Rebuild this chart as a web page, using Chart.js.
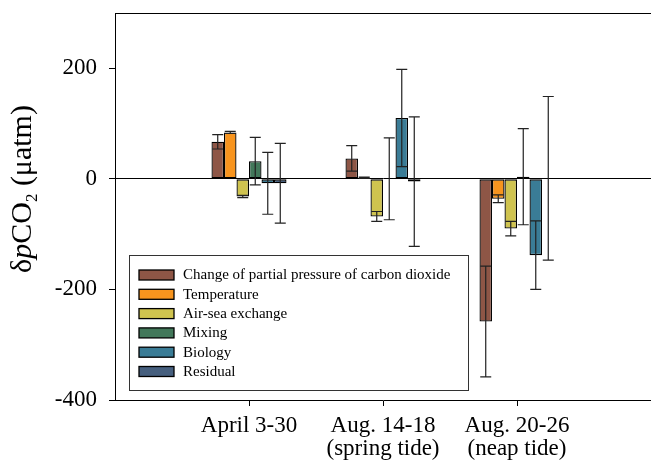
<!DOCTYPE html>
<html><head><meta charset="utf-8">
<script src="https://cdn.jsdelivr.net/npm/chart.js@4.4.0/dist/chart.umd.min.js"></script>
<style>html,body{margin:0;padding:0;background:#fff;overflow:hidden}</style>
</head><body>
<canvas id="c" width="651" height="465"></canvas>
<script>
// ---- data ----
const categories = ['', 'April 3-30', ['Aug. 14-18', '(spring tide)'], ['Aug. 20-26', '(neap tide)'], ''];
const seriesNames = ['Change of partial pressure of carbon dioxide', 'Temperature', 'Air-sea exchange', 'Mixing', 'Biology', 'Residual'];
const seriesColors = ['#8E5646', '#F7941E', '#CFC34F', '#42785A', '#3A7C96', '#465F7E'];
const pco2Change    = [null, 67, 37, -258, null];
const pco2ChangeErr = [null, 13, 23, 100, null];
const temperature    = [null, 84, 2, -36, null];
const temperatureErr = [null, 2, 1, 7, null];
const airSea    = [null, -32, -68, -90, null];
const airSeaErr = [null, 2, 9, 13, null];
const mixing    = [null, 32, 0, 4, null];
const mixingErr = [null, 43, 74, 87, null];
const biology    = [null, -8, 110, -138, null];
const biologyErr = [null, 56, 88, 62, null];
const residual    = [null, -8, -5, 1, null];
const residualErr = [null, 72, 117, 148, null];
const yTickValues = [-400, -200, 0, 200];
const yMin = -400, yMax = 300;

const seriesValues = [pco2Change, temperature, airSea, mixing, biology, residual];
const seriesErrors = [pco2ChangeErr, temperatureErr, airSeaErr, mixingErr, biologyErr, residualErr];

const FONT = '"Liberation Serif", "Times New Roman", serif';

const datasets = seriesNames.map((name, i) => ({
  label: name,
  data: seriesValues[i],
  errors: seriesErrors[i],
  backgroundColor: seriesColors[i],
  borderColor: '#000',
  borderWidth: 1.3,
  borderSkipped: false,
  barPercentage: 1,
  categoryPercentage: 0.56
}));

const errorBarPlugin = {
  id: 'errorBars',
  afterDatasetsDraw(chart) {
    const ctx = chart.ctx, ys = chart.scales.y;
    chart.data.datasets.forEach((ds, di) => {
      const meta = chart.getDatasetMeta(di);
      meta.data.forEach((bar, i) => {
        const v = ds.data[i], e = ds.errors[i];
        if (v == null || e == null) return;
        const x = bar.x, yt = ys.getPixelForValue(v + e), yb = ys.getPixelForValue(v - e);
        ctx.save();
        ctx.strokeStyle = '#222';
        ctx.lineWidth = 1.2;
        ctx.beginPath();
        ctx.moveTo(x, yt); ctx.lineTo(x, yb);
        ctx.moveTo(x - 5.5, yt); ctx.lineTo(x + 5.5, yt);
        ctx.moveTo(x - 5.5, yb); ctx.lineTo(x + 5.5, yb);
        ctx.stroke();
        ctx.restore();
      });
    });
  }
};

const framePlugin = {
  id: 'frame',
  afterDraw(chart) {
    const ctx = chart.ctx, a = chart.chartArea;
    ctx.save();
    // top border
    ctx.strokeStyle = '#000'; ctx.lineWidth = 1;
    ctx.beginPath(); ctx.moveTo(a.left, a.top + 0.5); ctx.lineTo(a.right, a.top + 0.5); ctx.stroke();

    // legend
    const lx = 129, ly = 255, lw = 339, lh = 135;
    ctx.fillStyle = '#fff';
    ctx.fillRect(lx, ly, lw, lh);
    ctx.strokeStyle = '#333'; ctx.lineWidth = 1;
    ctx.strokeRect(lx + 0.5, ly + 0.5, lw, lh);
    ctx.font = '15px ' + FONT;
    ctx.textBaseline = 'middle';
    ctx.textAlign = 'left';
    chart.data.datasets.forEach((ds, i) => {
      const cy = 275 + i * 19.3;
      ctx.fillStyle = ds.backgroundColor;
      ctx.fillRect(139, cy - 5, 35, 10);
      ctx.strokeStyle = '#000'; ctx.lineWidth = 1.3;
      ctx.strokeRect(139, cy - 5, 35, 10);
      ctx.fillStyle = '#000';
      ctx.fillText(ds.label, 183, cy + 0.5);
    });

    // y-axis title: δpCO2 (μatm)
    const size = 30;
    const parts = [
      { t: 'δ', f: size + 'px ' + FONT, dy: 0 },
      { t: 'p', f: 'italic ' + size + 'px ' + FONT, dy: 0 },
      { t: 'CO', f: size + 'px ' + FONT, dy: 0 },
      { t: '2', f: '17px ' + FONT, dy: 6 },
      { t: ' (μatm)', f: size + 'px ' + FONT, dy: 0 }
    ];
    let total = 0;
    parts.forEach(p => { ctx.font = p.f; p.w = ctx.measureText(p.t).width; total += p.w; });
    ctx.translate(31, 189);
    ctx.rotate(-Math.PI / 2);
    ctx.textBaseline = 'alphabetic';
    ctx.fillStyle = '#000';
    let u = -total / 2;
    parts.forEach(p => { ctx.font = p.f; ctx.fillText(p.t, u, p.dy); u += p.w; });
    ctx.restore();
  }
};

function zeroPad(s) { s.paddingLeft = 0; s.paddingRight = 0; s.paddingTop = 0; s.paddingBottom = 0; }

new Chart(document.getElementById('c'), {
  type: 'bar',
  data: { labels: categories, datasets },
  options: {
    responsive: false,
    animation: false,
    devicePixelRatio: 1,
    layout: { padding: { top: 13, right: 0, left: 0, bottom: 0 } },
    plugins: { legend: { display: false }, tooltip: { enabled: false }, title: { display: false } },
    scales: {
      x: {
        type: 'category',
        offset: false,
        grid: {
          offset: false,
          drawOnChartArea: false,
          drawTicks: true,
          tickLength: 6,
          tickColor: c => (c.index === 0 || c.index === categories.length - 1) ? 'rgba(0,0,0,0)' : '#000'
        },
        border: { color: '#000', width: 1 },
        ticks: {
          color: '#000', autoSkip: false, maxRotation: 0, padding: 8,
          font: { family: FONT, size: 23, lineHeight: 1.0 }
        },
        afterFit: s => { s.height = 65; zeroPad(s); }
      },
      y: {
        min: yMin, max: yMax,
        afterBuildTicks: s => { s.ticks = yTickValues.map(v => ({ value: v })); },
        grid: {
          drawOnChartArea: true,
          color: c => (c.tick && c.tick.value === 0) ? '#000' : 'rgba(0,0,0,0)',
          tickColor: '#000',
          tickLength: 6,
          lineWidth: 1
        },
        border: { color: '#000', width: 1 },
        ticks: {
          color: '#000', padding: 12,
          font: { family: FONT, size: 23 }
        },
        afterFit: s => { s.width = 115; zeroPad(s); }
      }
    }
  },
  plugins: [errorBarPlugin, framePlugin]
});
</script>
</body></html>
